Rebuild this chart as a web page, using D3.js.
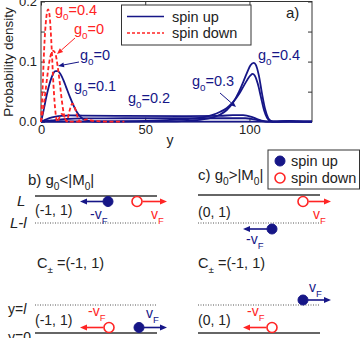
<!DOCTYPE html>
<html>
<head>
<meta charset="utf-8">
<script src="https://cdn.jsdelivr.net/npm/d3@7/dist/d3.min.js"></script>
<style>
  body { margin: 0; background: #fff; }
  svg { font-family: "Liberation Sans", Arial, sans-serif; }
</style>
</head>
<body>
<div id="chart"></div>
<script>
// probability density curves, [y, density]
var upG0 = [[0,0],[1,0.015],[2,0.032],[3,0.048],[4,0.062],[5,0.073],[6,0.081],[7,0.084],[8,0.084],[9,0.081],[10,0.075],[11,0.067],[12,0.058],[14,0.04],[16,0.024],[18,0.012],[20,0.005],[22,0.002],[25,0.0005],[30,0],[130,0]];
var upG01 = [[0,0],[2,0.003],[4,0.006],[7,0.0085],[10,0.0098],[14,0.0104],[20,0.0102],[40,0.0096],[70,0.0094],[86,0.0098],[92,0.0108],[97,0.0108],[101,0.008],[104,0.004],[107,0.001],[110,0],[130,0]];
var upG02 = [[0,0],[5,0.002],[12,0.0045],[20,0.0055],[40,0.0057],[60,0.0057],[80,0.0057],[98,0.0057],[102,0.004],[106,0.001],[109,0],[130,0]];
var upG03 = [[0,0],[30,0.0003],[45,0.001],[60,0.0025],[70,0.0045],[76,0.0065],[82,0.011],[86,0.0165],[89,0.0225],[92,0.032],[95,0.046],[97,0.058],[99,0.07],[100.5,0.077],[101.5,0.0795],[102.5,0.077],[104,0.063],[105.5,0.041],[107,0.019],[108.5,0.006],[110,0.001],[112,0],[116,0.0005],[119,0.001],[123,0.0004],[130,0]];
var upG04 = [[0,0],[60,0.0005],[70,0.0015],[80,0.005],[86,0.012],[89,0.019],[92,0.031],[95,0.05],[97,0.066],[99,0.083],[100.5,0.094],[102,0.098],[103,0.095],[104.5,0.077],[106,0.047],[107.5,0.021],[109,0.006],[110.5,0.001],[112,0],[116,0.0008],[119,0.0015],[123,0.0006],[130,0]];
var downG0 = [[0,0],[1,0.02],[2,0.046],[3,0.075],[4,0.1],[5,0.114],[6,0.118],[7,0.112],[8,0.092],[9,0.065],[10,0.035],[11,0.012],[12,0.002],[12.5,0],[13,0.008],[14,0.022],[15,0.03],[16,0.026],[17,0.014],[18,0.004],[19,0],[20,0.002],[22,0.004],[24,0.002],[27,0.001],[33,0],[40,0]];
var downG04 = [[0,0],[0.7,0.05],[1.5,0.12],[2.5,0.172],[3.4,0.187],[4.2,0.174],[5,0.13],[6,0.06],[7,0.014],[7.8,0],[9,0.008],[10,0.013],[11,0.009],[12,0.002],[13,0],[20,0]];

var xTicks = [0, 50, 100];
var yTicks = [0, 0.05, 0.1, 0.15, 0.2];

var blue = "#161687";
var red = "#ff2424";

var svg = d3.select("#chart").append("svg")
    .attr("width", 360)
    .attr("height", 338);

var x = d3.scaleLinear().domain([0, 130]).range([41, 312]);
var y = d3.scaleLinear().domain([0, 0.2]).range([121.7, 1.5]);

var line = d3.line()
    .x(function (d) { return x(d[0]); })
    .y(function (d) { return y(d[1]); })
    .curve(d3.curveMonotoneX);

// frame
svg.append("rect")
    .attr("x", x(0)).attr("y", y(0.2))
    .attr("width", x(130) - x(0)).attr("height", y(0) - y(0.2))
    .attr("fill", "none").attr("stroke", "#333").attr("stroke-width", 1);

function fmtY(d) { return (Math.round(d * 100) % 10 == 0) ? d3.format(".1f")(d) : ""; }

var gl = svg.append("g").attr("transform", "translate(" + x(0) + ",0)")
    .call(d3.axisLeft(y).tickValues(yTicks).tickSizeInner(-4).tickSizeOuter(0).tickPadding(4).tickFormat(fmtY));
var gr = svg.append("g").attr("transform", "translate(" + x(130) + ",0)")
    .call(d3.axisRight(y).tickValues(yTicks).tickSizeInner(-4).tickSizeOuter(0).tickFormat(""));
var gb = svg.append("g").attr("transform", "translate(0," + y(0) + ")")
    .call(d3.axisBottom(x).tickValues(xTicks).tickSizeInner(-4).tickSizeOuter(0).tickPadding(3));
var gt = svg.append("g").attr("transform", "translate(0," + y(0.2) + ")")
    .call(d3.axisTop(x).tickValues(xTicks).tickSizeInner(-4).tickSizeOuter(0).tickFormat(""));
svg.selectAll(".domain").remove();
svg.selectAll(".tick line").attr("stroke", "#333");
svg.selectAll(".tick text").attr("font-size", 13).attr("fill", "#222")
    .attr("font-family", "Liberation Sans, Arial, sans-serif");

svg.append("text").attr("transform", "translate(13,62) rotate(-90)")
    .attr("text-anchor", "middle").attr("font-size", 13.5).attr("fill", "#222")
    .text("Probability density");
svg.append("text").attr("x", 170).attr("y", 145).attr("text-anchor", "middle")
    .attr("font-size", 14).attr("fill", "#222").text("y");
svg.append("text").attr("x", 286).attr("y", 18).attr("font-size", 15).attr("fill", "#222").text("a)");

// curves
[upG01, upG02, upG0, upG03, upG04].forEach(function (c) {
    svg.append("path").datum(c).attr("d", line)
        .attr("fill", "none").attr("stroke", blue).attr("stroke-width", 1.8);
});
[downG0, downG04].forEach(function (c) {
    svg.append("path").datum(c).attr("d", line)
        .attr("fill", "none").attr("stroke", red).attr("stroke-width", 1.8)
        .attr("stroke-dasharray", "4,2.5");
});

// legend
svg.append("rect").attr("x", 121.5).attr("y", 5).attr("width", 129.5).attr("height", 40)
    .attr("fill", "#fff").attr("stroke", "#333").attr("stroke-width", 1);
svg.append("line").attr("x1", 127).attr("x2", 164).attr("y1", 16.5).attr("y2", 16.5)
    .attr("stroke", blue).attr("stroke-width", 1.6);
svg.append("line").attr("x1", 127).attr("x2", 164).attr("y1", 33).attr("y2", 33)
    .attr("stroke", red).attr("stroke-width", 1.6).attr("stroke-dasharray", "3,2");
svg.append("text").attr("x", 172).attr("y", 21.5).attr("font-size", 14.5).attr("fill", "#222").text("spin up");
svg.append("text").attr("x", 172).attr("y", 38).attr("font-size", 14.5).attr("fill", "#222").text("spin down");

// label with subscript: parts = [[text, sub?], ...]
function subText(px, py, parts, color, size, extra) {
    var t = svg.append("text").attr("x", px).attr("y", py)
        .attr("font-size", size).attr("fill", color);
    if (extra) t.attr("font-style", extra);
    var shift = 0;
    parts.forEach(function (p) {
        var s = t.append("tspan").text(p[0]);
        var target = p[1] ? size * 0.33 : 0;
        s.attr("dy", target - shift);
        if (p[1]) s.attr("font-size", size * 0.68);
        shift = target;
    });
    return t;
}
function gLabel(px, py, val, color) {
    subText(px, py, [["g"], ["0", true], ["=" + val]], color, 14.5);
}

gLabel(55, 15, "0.4", red);
gLabel(74, 34, "0", red);
gLabel(80, 60, "0", blue);
gLabel(74, 91, "0.1", blue);
gLabel(128, 103, "0.2", blue);
gLabel(192, 86, "0.3", blue);
gLabel(258, 60, "0.4", blue);

function arrow(g, x1, y1, x2, y2, color, w, hl, hw) {
    var a = Math.atan2(y2 - y1, x2 - x1);
    var bx = x2 - hl * Math.cos(a), by = y2 - hl * Math.sin(a);
    g.append("line").attr("x1", x1).attr("y1", y1).attr("x2", bx).attr("y2", by)
        .attr("stroke", color).attr("stroke-width", w);
    var px = -Math.sin(a) * hw, py = Math.cos(a) * hw;
    g.append("path")
        .attr("d", "M" + x2 + "," + y2 + "L" + (bx + px) + "," + (by + py) + "L" + (bx - px) + "," + (by - py) + "Z")
        .attr("fill", color);
}
arrow(svg, 75, 38, 57, 54, red, 1, 6, 2.5);
arrow(svg, 79, 62, 58, 66, blue, 1, 6, 2.5);
arrow(svg, 220, 93, 236, 107, blue, 1, 6, 2.5);

// lower panels
var dark = "#333";
function hline(x1, x2, yy, dotted) {
    var l = svg.append("line").attr("x1", x1).attr("x2", x2).attr("y1", yy).attr("y2", yy);
    if (dotted) l.attr("stroke", "#555").attr("stroke-width", 1).attr("stroke-dasharray", "1,1.5");
    else l.attr("stroke", dark).attr("stroke-width", 1.6);
}
function dot(cx, cy, filled) {
    svg.append("circle").attr("cx", cx).attr("cy", cy).attr("r", 5)
        .attr("fill", filled ? blue : "#fff")
        .attr("stroke", filled ? blue : red).attr("stroke-width", filled ? 1 : 1.6);
}
function vLabel(px, py, neg, color) {
    subText(px, py, [[neg ? "-v" : "v"], ["F", true]], color, 14);
}

// panel b
subText(28, 185, [["b) g"], ["0", true], ["<|M"], ["0", true], ["|"]], "#222", 15);
svg.append("text").attr("x", 17).attr("y", 206).attr("font-size", 15).attr("font-style", "italic").attr("fill", "#222").text("L");
svg.append("text").attr("x", 10).attr("y", 228).attr("font-size", 15).attr("font-style", "italic").attr("fill", "#222").text("L-l");
hline(35, 157, 196, false);
hline(35, 157, 223, true);
svg.append("text").attr("x", 35).attr("y", 215).attr("font-size", 14).attr("fill", "#222").text("(-1, 1)");
dot(108, 201.5, true);
arrow(svg, 103, 201.5, 80, 201.5, blue, 1.6, 7, 3);
vLabel(90, 219, true, blue);
dot(137, 201.5, false);
arrow(svg, 142.5, 201.5, 167, 201.5, red, 1.6, 7, 3);
vLabel(151, 219, false, red);

subText(37, 268, [["C"], ["±", true], [" =(-1, 1)"]], "#222", 14.5);
svg.append("text").attr("x", 8).attr("y", 314).attr("font-size", 14).attr("fill", "#222")
    .html("y=<tspan font-style='italic'>l</tspan>");
svg.append("text").attr("x", 8).attr("y", 342).attr("font-size", 14).attr("fill", "#222").text("y=0");
hline(35, 157, 305, true);
hline(35, 157, 333, false);
svg.append("text").attr("x", 35).attr("y", 325).attr("font-size", 14).attr("fill", "#222").text("(-1, 1)");
dot(109, 327.5, false);
arrow(svg, 103.5, 327.5, 80, 327.5, red, 1.6, 7, 3);
vLabel(88, 316, true, red);
dot(139, 327.5, true);
arrow(svg, 144, 327.5, 167, 327.5, blue, 1.6, 7, 3);
vLabel(146, 318, false, blue);

// panel c
svg.append("rect").attr("x", 268).attr("y", 150).attr("width", 91.5).attr("height", 39)
    .attr("fill", "#fff").attr("stroke", dark).attr("stroke-width", 1);
dot(280, 161, true);
dot(280, 178, false);
svg.append("text").attr("x", 291).attr("y", 166).attr("font-size", 14.5).attr("fill", "#222").text("spin up");
svg.append("text").attr("x", 291).attr("y", 183).attr("font-size", 14.5).attr("fill", "#222").text("spin down");

subText(198, 180, [["c) g"], ["0", true], [">|M"], ["0", true], ["|"]], "#222", 15);
hline(198, 320, 195, false);
hline(198, 320, 223, true);
svg.append("text").attr("x", 198).attr("y", 217).attr("font-size", 14).attr("fill", "#222").text("(0, 1)");
dot(303, 201.5, false);
arrow(svg, 308.5, 201.5, 331, 201.5, red, 1.6, 7, 3);
vLabel(313, 219, false, red);
dot(272, 229, true);
arrow(svg, 267, 229, 243, 229, blue, 1.6, 7, 3);
vLabel(246, 244, true, blue);

subText(198, 268, [["C"], ["±", true], [" =(-1, 1)"]], "#222", 14.5);
hline(198, 320, 305, true);
hline(198, 320, 333, false);
dot(303, 300, true);
arrow(svg, 308, 300, 331, 300, blue, 1.6, 7, 3);
vLabel(309, 292, false, blue);
svg.append("text").attr("x", 198).attr("y", 325).attr("font-size", 14).attr("fill", "#222").text("(0, 1)");
dot(272, 327.5, false);
arrow(svg, 266.5, 327.5, 243, 327.5, red, 1.6, 7, 3);
vLabel(247, 316, true, red);
</script>
</body>
</html>
